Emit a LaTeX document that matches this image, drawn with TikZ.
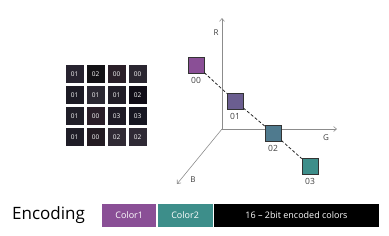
\documentclass[tikz,border=0pt]{standalone}
\usepackage{fontspec}
\setmainfont{Open Sans}
\usetikzlibrary{arrows.meta, positioning}
\definecolor{cpurple}{HTML}{8A4F96}
\definecolor{cviolet}{HTML}{6B5E90}
\definecolor{cslate}{HTML}{4F7A8E}
\definecolor{cteal}{HTML}{3D8E8A}
\definecolor{axisgray}{HTML}{8C8C8C}
\tikzset{
  pix/.style={draw=white, line width=0.6pt, minimum size=19pt, inner sep=0pt,
    text=white, font=\fontsize{6.5}{7}\selectfont},
  swatch/.style={draw=black!80, line width=0.6pt, minimum size=16pt, inner sep=0pt},
  code/.style={font=\fontsize{8.5}{9}\selectfont, text=black!75},
  axislabel/.style={font=\fontsize{8}{9}\selectfont, text=black!75},
  band/.style={minimum height=23pt, inner sep=0pt, text=white,
    font=\fontsize{9}{10}\selectfont}
}
\begin{document}
\begin{tikzpicture}[x=1pt, y=-1pt, >={Straight Barb[length=3pt, width=5pt]}]
  \useasboundingbox (0,0) rectangle (389,236);
  % the 4x4 block of indices
  \foreach \val/\shade [count=\i from 0] in {01/27232F, 02/131215, 00/2A1F28, 00/2A2630,
      01/1C1A24, 01/2B2832, 01/221E28, 02/100D17,
      01/201E28, 00/2A1E28, 03/1E1A25, 03/161621,
      01/1F1D27, 00/231B22, 02/302A34, 02/2F2A35} {
    \pgfmathtruncatemacro{\col}{mod(\i,4)}
    \pgfmathtruncatemacro{\row}{int(\i/4)}
    \definecolor{cellc}{HTML}{\shade}
    \node[pix, fill=cellc] (p\i) at (74.5+21*\col, 74+21*\row) {\val};
  }
  % RGB axes
  \coordinate (o) at (222,129);
  \coordinate (r) at (222,18);
  \coordinate (g) at (337,129);
  \coordinate (b) at (177,184);
  \draw[->, axisgray, line width=0.6pt] (o) -- (r);
  \draw[->, axisgray, line width=0.6pt] (o) -- (g);
  \draw[->, axisgray, line width=0.6pt] (o) -- (b);
  \node[axislabel] (lr) at (216,33) {R};
  \node[axislabel] (lg) at (326,138) {G};
  \node[axislabel] (lb) at (193,180) {B};
  % palette entries
  \node[swatch, fill=cpurple] (c0) at (196,65) {};
  \node[swatch, fill=cviolet] (c1) at (235,101) {};
  \node[swatch, fill=cslate] (c2) at (273,133) {};
  \node[swatch, fill=cteal] (c3) at (310,166) {};
  \draw[dashed, black!85, line width=0.8pt, dash pattern=on 3pt off 2pt]
    (c0) -- (c1) (c1) -- (c2) (c2) -- (c3);
  \node[code, below=1pt of c0] (l0) {00};
  \node[code, below=1pt of c1] (l1) {01};
  \node[code, below=1pt of c2] (l2) {02};
  \node[code, below=1pt of c3] (l3) {03};
  % encoding bar
  \node[font=\fontsize{17}{19}\selectfont, anchor=west, inner sep=0pt] (enc) at (12,215) {Encoding};
  \node[band, fill=cpurple, minimum width=54pt, anchor=west] (e1) at (102,215.5) {Color1};
  \node[band, fill=cteal, minimum width=55pt, right=1pt of e1] (e2) {Color2};
  \node[band, fill=black, minimum width=165pt, right=1pt of e2] (e3) {16 -- 2bit encoded colors};
\end{tikzpicture}
\end{document}
